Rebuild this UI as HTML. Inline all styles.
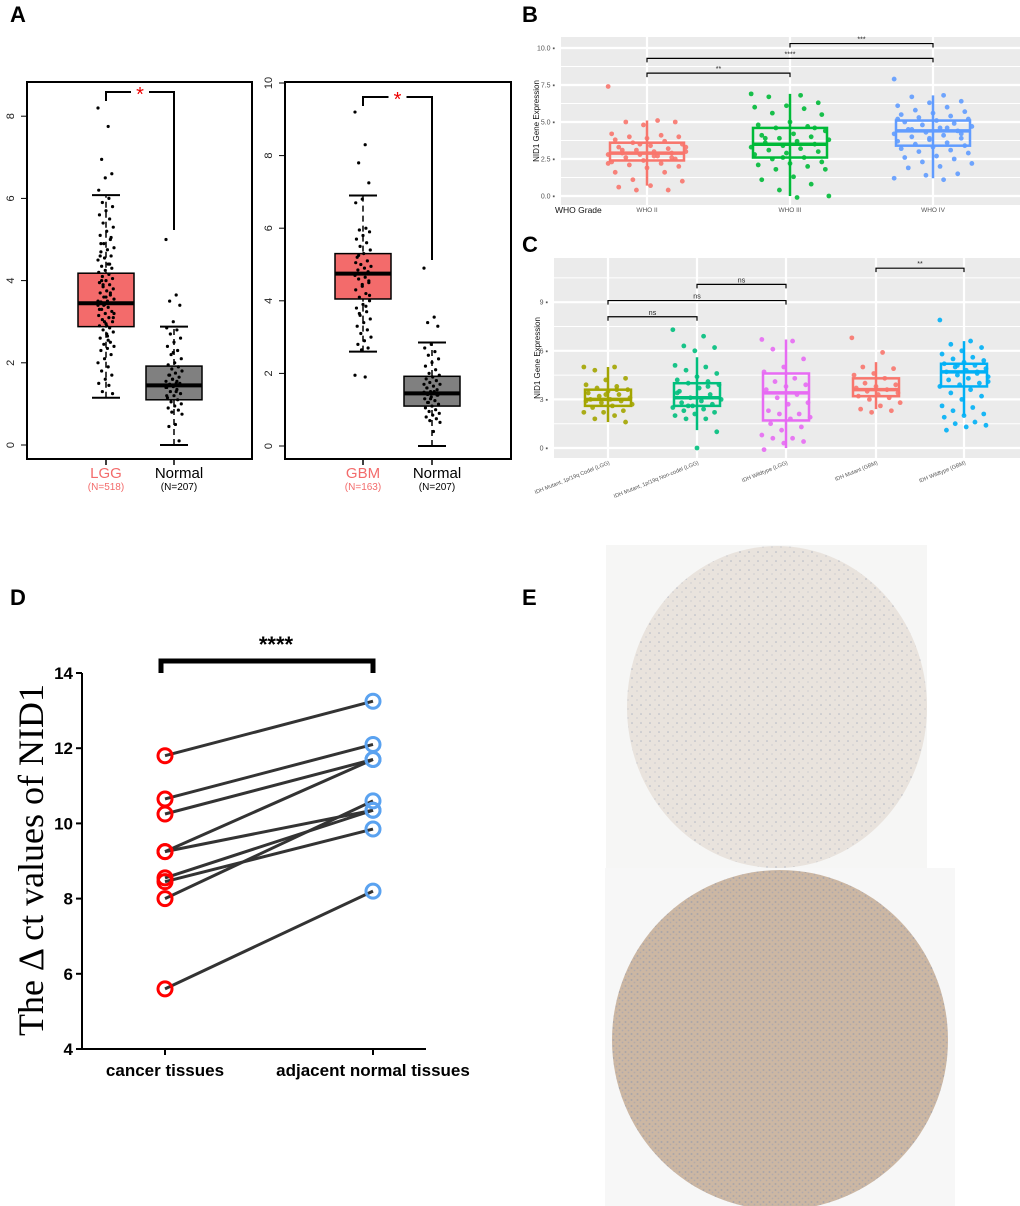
<!DOCTYPE html>
<html><head><meta charset="utf-8"><style>
html,body{margin:0;padding:0;background:#fff;}
svg{display:block;font-family:"Liberation Sans",Arial,sans-serif;}
</style></head><body>
<svg id="fig" width="1020" height="1206" viewBox="0 0 1020 1206" xmlns="http://www.w3.org/2000/svg">
<rect width="1020" height="1206" fill="#fff"/>
<text x="10" y="22" font-size="22" font-weight="bold">A</text>
<text x="522" y="22" font-size="22" font-weight="bold">B</text>
<text x="522" y="252" font-size="22" font-weight="bold">C</text>
<text x="10" y="605" font-size="22" font-weight="bold">D</text>
<text x="522" y="605" font-size="22" font-weight="bold">E</text>
<g id="gA"></g><g id="gB"></g><g id="gC"></g><g id="gD"></g>
<g id="gE">
 <defs>
  <pattern id="dotsTop" width="9" height="9" patternUnits="userSpaceOnUse"><circle cx="2" cy="3" r="0.8" fill="#8a98b0"/><circle cx="7" cy="7" r="0.6" fill="#9aa6bb"/></pattern>
  <pattern id="dotsBot" width="6" height="6" patternUnits="userSpaceOnUse"><circle cx="1.5" cy="2" r="1" fill="#8d96ad"/><circle cx="4.5" cy="4.5" r="0.9" fill="#9a9fb2"/></pattern>
 </defs>
 <rect x="606" y="545" width="321" height="323" fill="#f6f6f5"/>
 <ellipse cx="777" cy="707" rx="150" ry="161" fill="#e9e3dd"/>
 <ellipse cx="777" cy="707" rx="150" ry="161" fill="url(#dotsTop)" opacity="0.6"/>
 <rect x="605" y="868" width="350" height="338" fill="#f7f7f7"/>
 <ellipse cx="780" cy="1040" rx="168" ry="170" fill="#ccb7a3"/>
 <ellipse cx="780" cy="1040" rx="168" ry="170" fill="url(#dotsBot)" opacity="0.55"/>
</g>
</svg>
<script>
// ===== Panel A data =====
const aCats1 = ["LGG","Normal"];
const aNs1 = ["(N=518)","(N=207)"];
const aStats1 = [[1.15,2.88,3.45,4.18,6.08],[0,1.1,1.45,1.92,2.88]];
const aPts1LGG = [8.2,7.75,6.95,6.6,6.5,6.2,6.0,5.9,5.8,5.7,5.6,5.5,5.4,5.3,5.2,5.1,5.0,4.9,4.8,4.75,4.7,4.6,4.55,4.5,4.4,4.35,4.3,4.25,4.2,4.15,4.1,4.05,4.0,3.95,3.9,3.85,3.8,3.75,3.7,3.65,3.6,3.55,3.5,3.48,3.45,3.42,3.4,3.35,3.3,3.25,3.2,3.15,3.1,3.05,3.0,2.95,2.9,2.85,2.8,2.75,2.7,2.6,2.5,2.45,2.4,2.35,2.3,2.2,2.1,2.0,1.9,1.8,1.7,1.6,1.5,1.45,1.3,1.25,3.6,3.3,4.4,3.9,3.1,2.9,4.6,3.7,3.4,3.2,2.65,4.9,5.05,3.0,3.5,2.55,4.0];
const aPts1N = [5.0,3.65,3.5,3.4,3.0,2.85,2.8,2.7,2.6,2.5,2.4,2.3,2.2,2.1,2.0,1.95,1.9,1.85,1.8,1.75,1.7,1.65,1.6,1.55,1.5,1.48,1.45,1.42,1.4,1.35,1.3,1.25,1.2,1.15,1.1,1.05,1.0,0.95,0.9,0.85,0.8,0.75,0.5,0.45,0.1,1.6,1.4,1.3,1.7,1.5,2.25,1.2,1.55];
const aCats2 = ["GBM","Normal"];
const aNs2 = ["(N=163)","(N=207)"];
const aStats2 = [[2.6,4.05,4.75,5.3,6.9],[0,1.1,1.45,1.92,2.85]];
const aPts2GBM = [9.2,8.3,7.8,7.25,6.8,6.7,6.0,5.95,5.9,5.8,5.7,5.6,5.5,5.4,5.3,5.2,5.1,5.0,4.95,4.9,4.85,4.8,4.75,4.7,4.65,4.6,4.5,4.4,4.3,4.2,4.1,4.0,3.9,3.8,3.7,3.6,3.5,3.4,3.3,3.2,3.1,3.0,2.9,2.8,2.7,2.65,1.95,1.9,5.25,4.55,4.45,5.05,3.85,3.65,4.15];
const aPts2N = [4.9,3.55,3.4,3.3,2.8,2.7,2.6,2.5,2.4,2.3,2.2,2.1,2.0,1.95,1.9,1.85,1.8,1.75,1.7,1.65,1.6,1.55,1.5,1.48,1.45,1.42,1.4,1.35,1.3,1.25,1.2,1.15,1.1,1.05,1.0,0.95,0.9,0.85,0.8,0.75,0.7,0.65,0.4,1.6,1.4,1.3,1.7,1.5,1.2];
const aTicks1 = [0,2,4,6,8];
const aTicks2 = [0,2,4,6,8,10];

// ===== Panel B data =====
const bCats = ["WHO II","WHO III","WHO IV"];
const bColors = ["#f8766d","#00ba38","#619cff"];
const bStats = [[0.7,2.4,2.9,3.6,5.1],[0,2.6,3.5,4.6,6.9],[1.2,3.4,4.4,5.1,6.8]];
const bPts0 = [7.4,5.1,5.0,5.0,4.8,4.2,4.1,4.0,4.0,3.9,3.8,3.7,3.6,3.5,3.4,3.3,3.2,3.1,3.0,3.0,2.9,2.9,2.8,2.8,2.7,2.6,2.5,2.4,2.3,2.2,2.1,2.0,1.9,1.6,1.6,1.1,1.0,0.7,0.6,0.4,0.4,3.3,2.7,3.1,2.6,3.5,2.2];
const bPts1 = [6.9,6.8,6.7,6.3,6.1,6.0,5.9,5.6,5.5,5.0,4.8,4.7,4.6,4.4,4.2,4.1,4.0,3.9,3.8,3.7,3.6,3.5,3.4,3.3,3.2,3.1,3.0,2.9,2.8,2.6,2.5,2.3,2.2,2.1,2.0,1.8,1.8,1.3,1.1,0.8,0.4,0.0,-0.1,3.9,4.6,2.6];
const bPts2 = [7.9,6.8,6.7,6.4,6.3,6.1,6.0,5.8,5.7,5.6,5.5,5.4,5.3,5.2,5.1,5.0,4.9,4.8,4.7,4.6,4.5,4.4,4.3,4.2,4.1,4.0,3.9,3.8,3.7,3.6,3.5,3.4,3.3,3.2,3.1,3.0,2.9,2.7,2.6,2.5,2.3,2.2,2.0,1.9,1.5,1.4,1.2,1.1,4.5,4.2,3.9,5.2,4.6];
const bTicks = [0,2.5,5,7.5,10];
const bTickLabels = ["0.0","2.5","5.0","7.5","10.0"];
const bSig = [[0,1,8.3,"**"],[0,2,9.3,"****"],[1,2,10.3,"***"]];

// ===== Panel C data =====
const cCats = ["IDH Mutant, 1p/19q Codel (LGG)","IDH Mutant, 1p/19q Non-codel (LGG)","IDH Wildtype (LGG)","IDH Mutant (GBM)","IDH Wildtype (GBM)"];
const cColors = ["#a3a500","#00bf7d","#e76bf3","#f8766d","#00b0f6"];
const cStats = [[1.6,2.6,3.0,3.6,5.0],[1.1,2.6,3.1,4.0,5.6],[0,1.7,3.4,4.6,6.7],[2.4,3.2,3.6,4.3,5.3],[2.0,3.8,4.7,5.2,6.6]];
const cPts0 = [5.0,5.0,4.8,4.3,4.2,3.9,3.8,3.7,3.6,3.5,3.4,3.3,3.2,3.1,3.0,3.0,2.9,2.8,2.7,2.6,2.5,2.3,2.2,2.2,2.0,1.8,1.6,3.3,2.9,3.6];
const cPts1 = [7.3,6.9,6.3,6.2,6.0,5.1,5.0,4.8,4.6,4.4,4.2,4.1,4.0,3.9,3.7,3.5,3.3,3.1,3.0,2.9,2.8,2.7,2.6,2.5,2.4,2.3,2.2,2.1,2.0,1.8,1.8,1.0,0.0,3.4,3.8,2.6];
const cPts2 = [6.7,6.6,6.1,5.5,5.0,4.7,4.3,4.1,3.9,3.8,3.6,3.3,3.1,2.8,2.7,2.3,2.1,2.1,1.9,1.8,1.5,1.3,1.1,0.8,0.6,0.6,0.4,0.3,-0.1];
const cPts3 = [6.8,5.9,5.0,4.9,4.6,4.5,4.3,4.0,3.9,3.8,3.7,3.6,3.5,3.4,3.3,3.2,3.1,3.0,2.8,2.6,2.4,2.3,2.2];
const cPts4 = [7.9,6.6,6.4,6.2,6.0,5.8,5.6,5.5,5.4,5.3,5.2,5.1,5.0,4.9,4.8,4.7,4.6,4.5,4.4,4.3,4.2,4.0,3.9,3.8,3.6,3.4,3.2,3.0,2.6,2.5,2.3,2.1,2.0,1.9,1.6,1.5,1.4,1.3,1.1,4.7,5.1,4.1];
const cTicks = [0,3,6,9];
const cSig = [[0,1,8.1,"ns"],[0,2,9.1,"ns"],[1,2,10.1,"ns"],[3,4,11.1,"**"]];

// ===== Panel D data =====
const dCats = ["cancer tissues","adjacent normal tissues"];
const dCancer = [11.8,10.65,10.25,9.25,9.25,8.55,8.45,8.0,5.6];
const dNormal = [13.25,12.1,11.7,11.7,10.35,10.35,9.85,10.6,8.2];
const dTicks = [4,6,8,10,12,14];

const NS="http://www.w3.org/2000/svg";
function mk(parent, tag, attrs, text){
  const e=document.createElementNS(NS,tag);
  for(const k in attrs) e.setAttribute(k,attrs[k]);
  if(text!==undefined) e.textContent=text;
  parent.appendChild(e); return e;
}
function jit(i,w){ return (((i*37)%23)-11)/11*w; }

// ---------- Panel A ----------
function gepia(g, left, right, top, bottom, yScale, ticks, cx, cats, ns, stats, pts, bracketY, bracketRightEnd, starColor){
  const frame=mk(g,'rect',{x:left,y:top,width:right-left,height:bottom-top,fill:'none',stroke:'#000','stroke-width':2});
  
  
  ticks.forEach(t=>{
    const y=yScale(t);
    const tk=mk(g,'line',{x1:left-6,x2:left,y1:y,y2:y,stroke:'#000','stroke-width':1});
    
    
    const lb=mk(g,'text',{x:left-16,y:y,'font-size':11,'text-anchor':'middle',transform:`rotate(-90 ${left-16} ${y})`,'dominant-baseline':'middle',fill:'#222'},String(t));
    
    
  });
  const fills=['#f36b6b','#808080'];
  stats.forEach((s,i)=>{
    const x=cx[i], hw=28;
    const wh=mk(g,'line',{x1:x,x2:x,y1:yScale(s[0]),y2:yScale(s[4]),stroke:'#000','stroke-width':1.5,'stroke-dasharray':'6,4'});
    
    
    [s[0],s[4]].forEach(v=>{
      const c=mk(g,'line',{x1:x-14,x2:x+14,y1:yScale(v),y2:yScale(v),stroke:'#000','stroke-width':2});
      
      
    });
    const b=mk(g,'rect',{x:x-hw,y:yScale(s[3]),width:2*hw,height:yScale(s[1])-yScale(s[3]),fill:fills[i],stroke:'#000','stroke-width':1.5});
    
    
    const m=mk(g,'line',{x1:x-hw,x2:x+hw,y1:yScale(s[2]),y2:yScale(s[2]),stroke:'#000','stroke-width':4});
    
    
    pts[i].forEach((v,j)=>{
      const p=mk(g,'circle',{cx:x+jit(j,8),cy:yScale(v),r:1.6,fill:'#000'});
      
      
    });
    const xt=mk(g,'line',{x1:x,x2:x,y1:bottom,y2:bottom+6,stroke:'#000','stroke-width':1.5});
    
    
    const cl=mk(g,'text',{x:x+(i?5:0),y:bottom+19,'font-size':15,'text-anchor':'middle',fill:i?'#000':'#f36b6b'},cats[i]);
    
    
    const nl=mk(g,'text',{x:x+(i?5:0),y:bottom+31,'font-size':10,'text-anchor':'middle',fill:i?'#000':'#f36b6b'},ns[i]);
    
    
  });
  const br=mk(g,'path',{d:`M${cx[0]} ${bracketY+9} V${bracketY} H${cx[1]} V${bracketRightEnd}`,fill:'none',stroke:'#000','stroke-width':2});
  
  
  const bg=mk(g,'rect',{x:(cx[0]+cx[1])/2-9,y:bracketY-3,width:18,height:6,fill:'#fff'});
  const st=mk(g,'text',{x:(cx[0]+cx[1])/2,y:bracketY+9,'font-size':20,'text-anchor':'middle',fill:'#e00'},'*');
  
  
}
const gA=document.getElementById('gA');
const ya1=v=>445-v*41.1, ya2=v=>446-v*36.3;
gepia(gA,27,252,82,459,ya1,aTicks1,[106,174],aCats1,aNs1,aStats1,[aPts1LGG,aPts1N],92,230);
gepia(gA,285,511,82,459,ya2,aTicks2,[363,432],aCats2,aNs2,aStats2,[aPts2GBM,aPts2N],97,260);

// ---------- Panel B / C (ggplot style) ----------
function ggpanel(g, x0,x1,y0,y1, yScale, majors, minors, tickLabels, cx, colors, stats, pts, hw, sig, ylabel, ylabelX){
  const bg=mk(g,'rect',{x:x0,y:y0,width:x1-x0,height:y1-y0,fill:'#ebebeb'});
  
  
  minors.forEach(v=>{ const l=mk(g,'line',{x1:x0,x2:x1,y1:yScale(v),y2:yScale(v),stroke:'#fff','stroke-width':1});
    
     });
  majors.forEach((v,i)=>{ const l=mk(g,'line',{x1:x0,x2:x1,y1:yScale(v),y2:yScale(v),stroke:'#fff','stroke-width':2.2});
    
    
    const t=mk(g,'text',{x:x0-6,y:yScale(v)+2.5,'font-size':7,'text-anchor':'end',fill:'#555'},tickLabels[i]+' ▪');
    
     });
  cx.forEach(x=>{ const l=mk(g,'line',{x1:x,x2:x,y1:y0,y2:y1,stroke:'#fff','stroke-width':2.2});
    
     });
  stats.forEach((s,i)=>{
    const x=cx[i];
    const w=mk(g,'line',{x1:x,x2:x,y1:yScale(s[0]),y2:yScale(s[4]),stroke:colors[i],'stroke-width':2.5});
    
    
    const b=mk(g,'rect',{x:x-hw,y:yScale(s[3]),width:2*hw,height:yScale(s[1])-yScale(s[3]),fill:'none',stroke:colors[i],'stroke-width':2.5});
    
    
    const m=mk(g,'line',{x1:x-hw,x2:x+hw,y1:yScale(s[2]),y2:yScale(s[2]),stroke:colors[i],'stroke-width':3.5});
    
    
    pts[i].forEach((v,j)=>{
      const p=mk(g,'circle',{cx:x+jit(j,hw*1.05),cy:yScale(v),r:2.4,fill:colors[i],opacity:0.9});
      
      
    });
  });
  sig.forEach(s=>{
    const y=yScale(s[2]);
    const p=mk(g,'path',{d:`M${cx[s[0]]} ${y+4} V${y} H${cx[s[1]]} V${y+4}`,fill:'none',stroke:'#000','stroke-width':1.2});
    
    
    const t=mk(g,'text',{x:(cx[s[0]]+cx[s[1]])/2,y:y-2,'font-size':7,'text-anchor':'middle',fill:'#222'},s[3]);
    
    
  });
  const yl=mk(g,'text',{x:ylabelX,y:(y0+y1)/2,'font-size':8,'text-anchor':'middle',transform:`rotate(-90 ${ylabelX} ${(y0+y1)/2})`,fill:'#111'},ylabel);
  
  
}
const gB=document.getElementById('gB');
const yb=v=>196-14.8*v;
ggpanel(gB,561,1020,37,205,yb,bTicks,[1.25,3.75,6.25,8.75],bTickLabels,[647,790,933],bColors,bStats,[bPts0,bPts1,bPts2],37,bSig,'NID1 Gene Expression',539);
const bxt=mk(gB,'text',{x:555,y:213,'font-size':8.5,fill:'#111'},'WHO Grade');


bCats.forEach((c,i)=>{
  const t=mk(gB,'text',{x:[647,790,933][i],y:212,'font-size':6.5,'text-anchor':'middle',fill:'#555'},c);
  
  
});

const gC=document.getElementById('gC');
const yc=v=>448-16.2*v;
const cX=[608,697,786,876,964];
ggpanel(gC,554,1020,258,458,yc,cTicks,[1.5,4.5,7.5,10.5],cTicks.map(String),cX,cColors,cStats,[cPts0,cPts1,cPts2,cPts3,cPts4],23,cSig,'NID1 Gene Expression',540);
cCats.forEach((c,i)=>{
  const x=cX[i]+2, y=464;
  const t=mk(gC,'text',{x:x,y:y,'font-size':5.5,'text-anchor':'end',fill:'#555',transform:`rotate(-22 ${x} ${y})`},c);
  
  
});

// ---------- Panel D ----------
const gD=document.getElementById('gD');
const yd=v=>1049-37.6*(v-4);
const xd=[165,373];
const ax=mk(gD,'path',{d:`M82 673 V1049 H426`,fill:'none',stroke:'#000','stroke-width':2});


dTicks.forEach(t=>{
  const l=mk(gD,'line',{x1:76,x2:82,y1:yd(t),y2:yd(t),stroke:'#000','stroke-width':2});
  
  
  const tx=mk(gD,'text',{x:73,y:yd(t)+6,'font-size':17,'font-weight':'bold','text-anchor':'end'},String(t));
  
  
});
dCats.forEach((c,i)=>{
  const l=mk(gD,'line',{x1:xd[i],x2:xd[i],y1:1049,y2:1055,stroke:'#000','stroke-width':2});
  
  
  const t=mk(gD,'text',{x:xd[i],y:1076,'font-size':17,'font-weight':'bold','text-anchor':'middle'},c);
  
  
});
dCancer.forEach((v,i)=>{
  const l=mk(gD,'line',{x1:xd[0],y1:yd(v),x2:xd[1],y2:yd(dNormal[i]),stroke:'#333','stroke-width':3});
  
  
});
dCancer.forEach(v=>{
  const c=mk(gD,'circle',{cx:xd[0],cy:yd(v),r:7,fill:'none',stroke:'#f00','stroke-width':3});
  
  
});
dNormal.forEach(v=>{
  const c=mk(gD,'circle',{cx:xd[1],cy:yd(v),r:7,fill:'none',stroke:'#5aa2f0','stroke-width':3});
  
  
});
const dbr=mk(gD,'path',{d:'M161 673 V661 H373 V673',fill:'none',stroke:'#000','stroke-width':5});


const dst=mk(gD,'text',{x:276,y:652,'font-size':22,'font-weight':'bold','text-anchor':'middle'},'****');


const dyt=mk(gD,'text',{x:43,y:860,'font-size':36,'font-family':'Liberation Serif, serif','text-anchor':'middle',transform:'rotate(-90 43 860)'},'The Δ ct values of NID1');


</script>
</body></html>
